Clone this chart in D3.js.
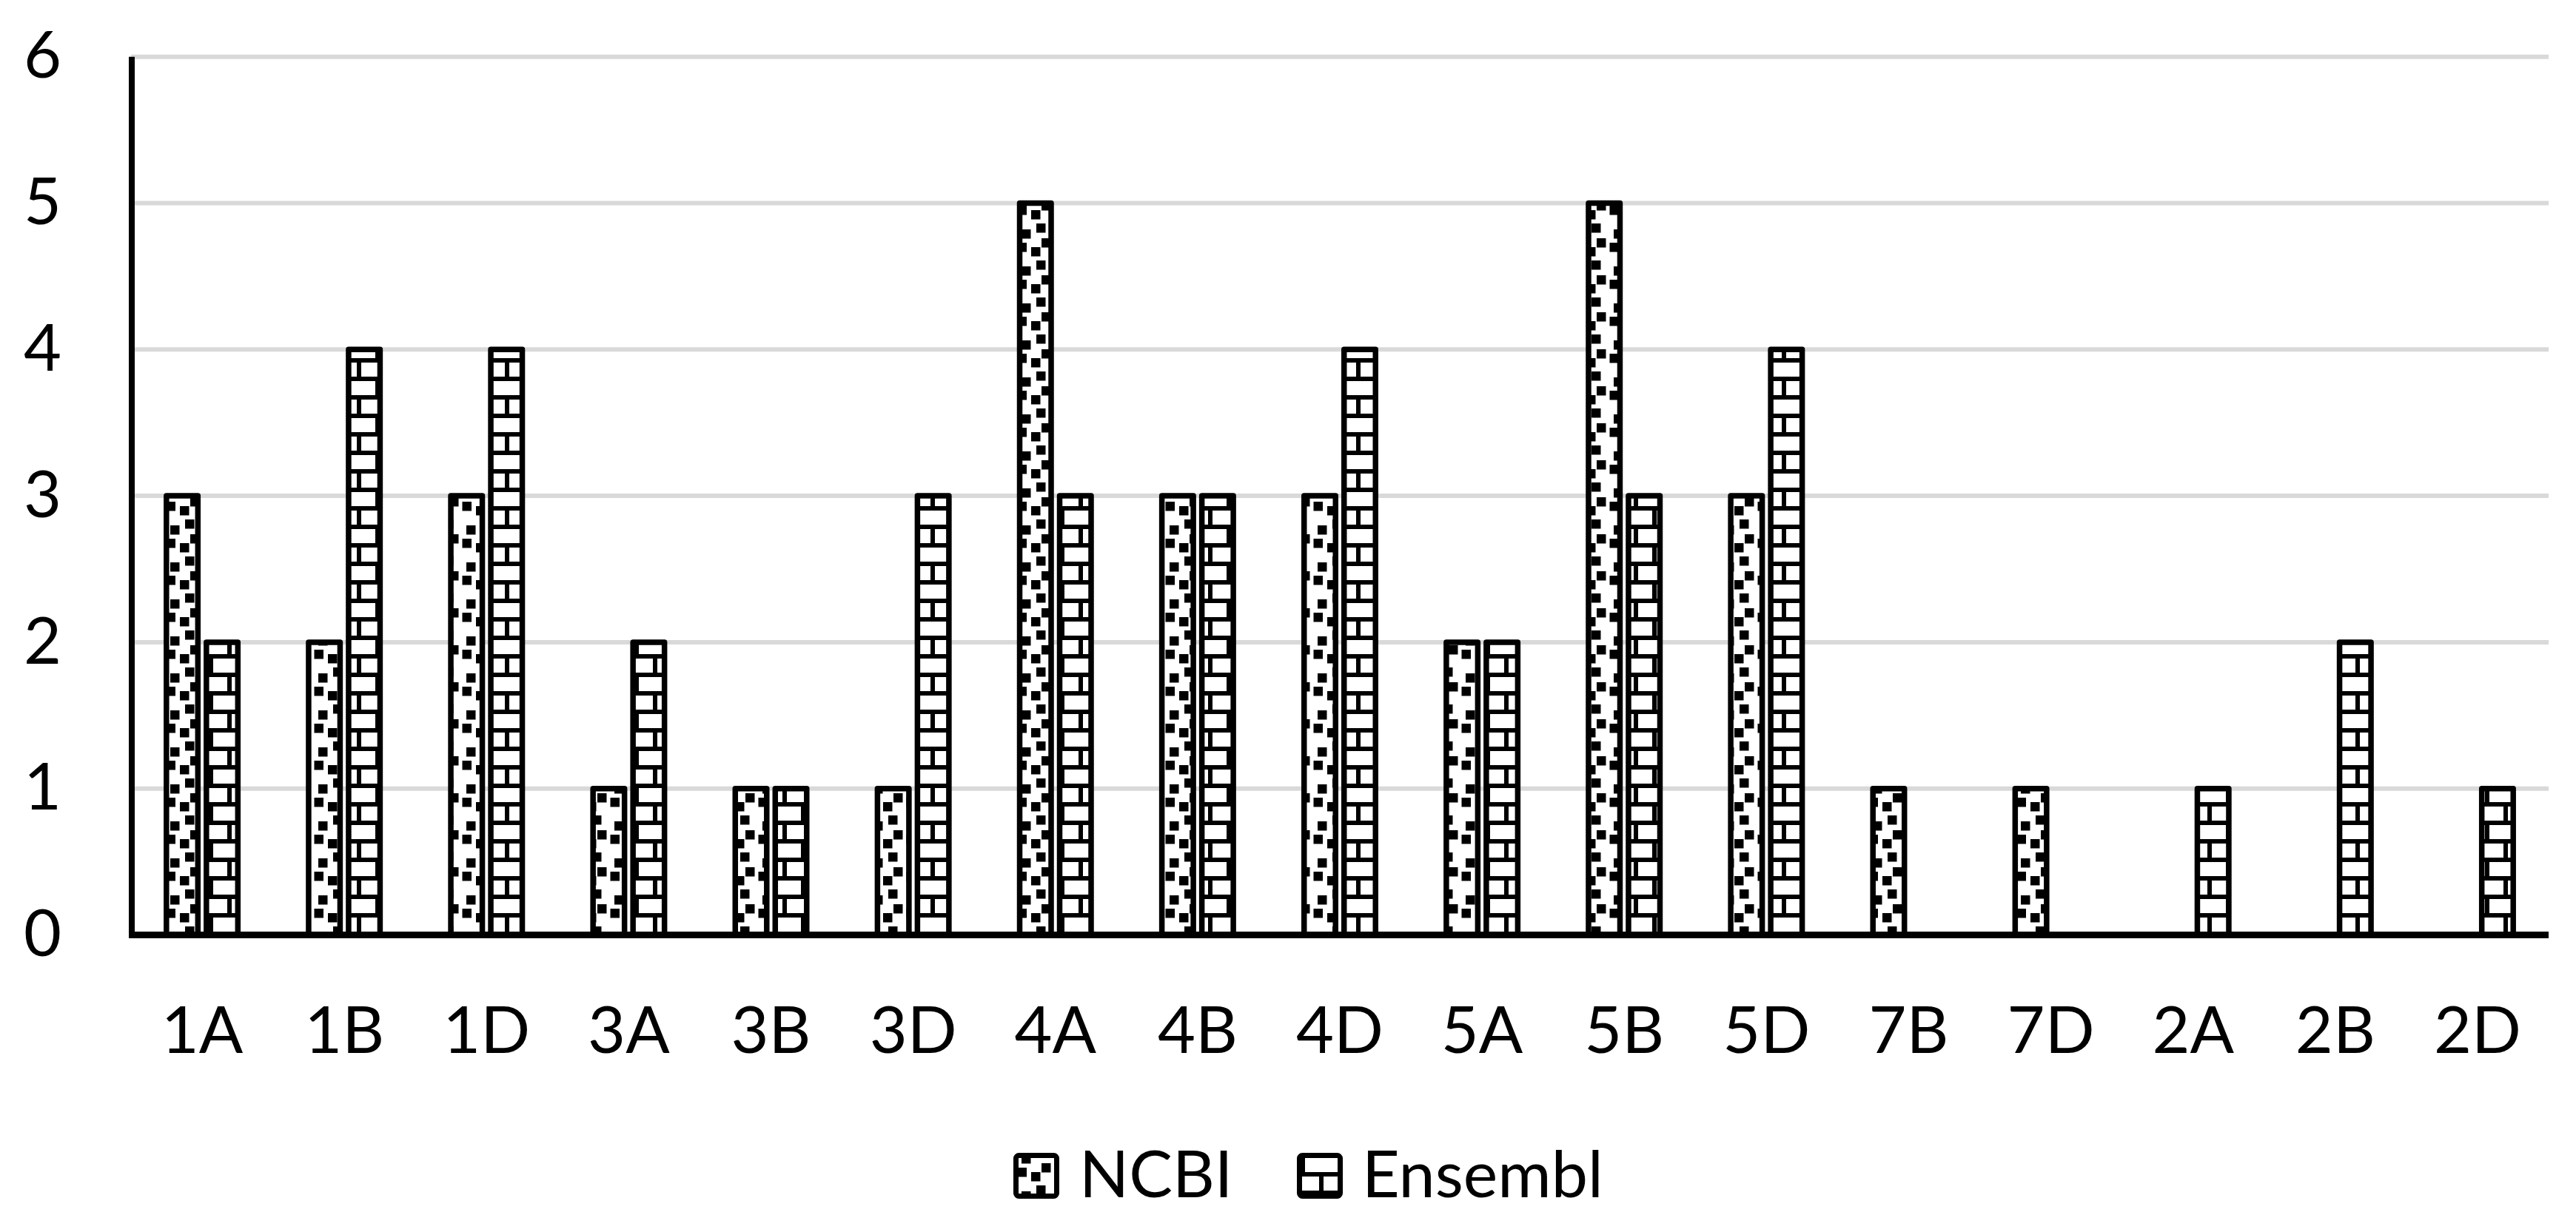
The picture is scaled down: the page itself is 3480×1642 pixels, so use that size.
<!DOCTYPE html>
<html>
<head>
<meta charset="utf-8">
<script src="https://cdn.jsdelivr.net/npm/d3@7"></script>
<style>
  html, body { margin: 0; padding: 0; background: #fff; }
  svg { display: block; font-family: Lato, "Open Sans", sans-serif; }
</style>
</head>
<body>
<svg id="chart" width="3480" height="1642"></svg>
<script>
const categories = ['1A', '1B', '1D', '3A', '3B', '3D', '4A', '4B', '4D', '5A', '5B', '5D', '7B', '7D', '2A', '2B', '2D'];
const series = ['NCBI', 'Ensembl'];
const ncbiValues = [3, 2, 3, 1, 1, 1, 5, 3, 3, 2, 5, 3, 1, 1, 0, 0, 0];
const ensemblValues = [2, 4, 4, 2, 1, 3, 3, 3, 4, 2, 3, 4, 0, 0, 1, 2, 1];
const yTicks = [0, 1, 2, 3, 4, 5, 6];

const FONT_SIZE = 88;
const plotLeft = 177;
const plotRight = 3443;
const svg = d3.select('#chart');

const x = d3.scaleBand().domain(categories).range([plotLeft, plotRight]).paddingInner(0).paddingOuter(0);
const y = d3.scaleLinear().domain([0, 6]).range([1263.5, 76.7]);
// bars sit side by side around the category centre
const xs = d3.scaleBand().domain(series).range([-52, 52]).paddingInner(0.074);

// fill patterns, anchored to the whole chart like in the spreadsheet
const defs = svg.append('defs');

const confetti = defs.append('pattern')
  .attr('id', 'pat-ncbi')
  .attr('patternUnits', 'userSpaceOnUse')
  .attr('x', 24).attr('y', 0)
  .attr('width', 50).attr('height', 50);
confetti.append('rect').attr('width', 50).attr('height', 50).attr('fill', '#fff');
[[26, 2], [6, 10], [33, 22], [0.5, 28], [19, 34]].forEach(([px, py]) => {
  confetti.append('rect').attr('x', px).attr('y', py).attr('width', 12.5).attr('height', 12.5).attr('fill', '#000');
});

const brick = defs.append('pattern')
  .attr('id', 'pat-ensembl')
  .attr('patternUnits', 'userSpaceOnUse')
  .attr('x', 32).attr('y', 9)
  .attr('width', 50).attr('height', 50);
brick.append('rect').attr('width', 50).attr('height', 50).attr('fill', '#fff');
brick.append('rect').attr('x', 0).attr('y', 0).attr('width', 50).attr('height', 6).attr('fill', '#000');
brick.append('rect').attr('x', 0).attr('y', 25).attr('width', 50).attr('height', 6).attr('fill', '#000');
brick.append('rect').attr('x', 25).attr('y', 0).attr('width', 6).attr('height', 25).attr('fill', '#000');
brick.append('rect').attr('x', 0).attr('y', 25).attr('width', 6).attr('height', 25).attr('fill', '#000');

const fills = { NCBI: 'url(#pat-ncbi)', Ensembl: 'url(#pat-ensembl)' };

// gridlines
svg.append('g')
  .selectAll('line')
  .data(yTicks.filter(d => d > 0))
  .join('line')
  .attr('x1', plotLeft)
  .attr('x2', plotRight)
  .attr('y1', d => y(d))
  .attr('y2', d => y(d))
  .attr('stroke', '#d9d9d9')
  .attr('stroke-width', 6);

// bars
const rows = [];
categories.forEach((c, i) => {
  rows.push({ cat: c, key: 'NCBI', value: ncbiValues[i] });
  rows.push({ cat: c, key: 'Ensembl', value: ensemblValues[i] });
});

svg.append('g')
  .selectAll('rect')
  .data(rows.filter(d => d.value > 0))
  .join('rect')
  .attr('x', d => x(d.cat) + x.bandwidth() / 2 + xs(d.key) + 3.75)
  .attr('width', xs.bandwidth() - 7.5)
  .attr('y', d => y(d.value))
  .attr('height', d => y(0) - y(d.value))
  .attr('fill', d => fills[d.key])
  .attr('stroke', '#000')
  .attr('stroke-width', 7.5)
  .attr('stroke-linejoin', 'round');

// axis lines
svg.append('line')
  .attr('x1', 178).attr('x2', 178)
  .attr('y1', y(6)).attr('y2', y(0))
  .attr('stroke', '#000').attr('stroke-width', 8);
svg.append('line')
  .attr('x1', 174).attr('x2', plotRight)
  .attr('y1', y(0)).attr('y2', y(0))
  .attr('stroke', '#000').attr('stroke-width', 9);

// tick labels
const yAxis = svg.append('g')
  .attr('transform', `translate(${plotLeft},0)`)
  .call(d3.axisLeft(y).tickValues(yTicks).tickFormat(d3.format('d')).tickSize(0).tickPadding(94));
const xAxis = svg.append('g')
  .attr('transform', `translate(0,${y(0)})`)
  .call(d3.axisBottom(x).tickSize(0).tickPadding(97));
[yAxis, xAxis].forEach(g => {
  g.select('.domain').remove();
  g.selectAll('text')
    .attr('font-family', 'Lato, "Open Sans", sans-serif')
    .attr('font-size', FONT_SIZE)
    .attr('fill', '#000');
});

// legend
const legendItems = [
  { key: 'NCBI', x: 1369, textX: 1458 },
  { key: 'Ensembl', x: 1752, textX: 1840 }
];
const legend = svg.append('g');
legend.selectAll('rect')
  .data(legendItems)
  .join('rect')
  .attr('x', d => d.x + 3.5)
  .attr('y', 1561.5)
  .attr('width', 55)
  .attr('height', 55)
  .attr('rx', 4)
  .attr('fill', d => fills[d.key])
  .attr('stroke', '#000')
  .attr('stroke-width', 7);
legend.selectAll('text')
  .data(legendItems)
  .join('text')
  .attr('x', d => d.textX)
  .attr('y', 1618)
  .attr('font-size', FONT_SIZE)
  .attr('fill', '#000')
  .text(d => d.key);
</script>
</body>
</html>
